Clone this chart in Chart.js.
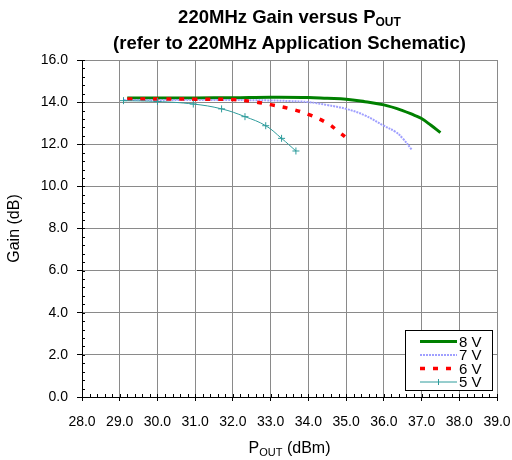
<!DOCTYPE html>
<html>
<head>
<meta charset="utf-8">
<script src="https://cdn.jsdelivr.net/npm/chart.js@4/dist/chart.umd.min.js"></script>
<style>
	html, body { margin: 0; padding: 0; background: #fff; }
	#wrap { position: relative; width: 512px; height: 460px; font-family: "Liberation Sans", Arial, sans-serif; }
	#wrap canvas { position: absolute; left: 0; top: 0; }
	.title { position: absolute; left: 82px; width: 415px; text-align: center; font-weight: bold; font-size: 18.5px; line-height: 20px; color: #000; white-space: nowrap; }
	.xtitle { position: absolute; left: 82px; width: 415px; top: 438px; text-align: center; font-size: 16px; line-height: 20px; color: #000; }
	sub { font-size: 11px; vertical-align: -3px; line-height: 0; }
	.title sub { font-size: 12px; }
</style>
</head>
<body>
<div id="wrap">
	<canvas id="chart" width="512" height="460"></canvas>
	<div class="title" style="top:7px">220MHz Gain versus P<sub>OUT</sub></div>
	<div class="title" style="top:33px">(refer to 220MHz Application Schematic)</div>
	<div class="xtitle">P<sub>OUT</sub> (dBm)</div>
</div>
<script>
/* globals Chart */

// values
const seriesLabels = ['8 V', '7 V', '6 V', '5 V'];

const pout8 = [29.2, 30.0, 31.0, 32.0, 33.0, 34.0, 34.5, 35.0, 35.5, 36.0, 36.5, 36.8, 37.0, 37.25, 37.5];
const gain8 = [14.2, 14.2, 14.2, 14.21, 14.23, 14.22, 14.18, 14.14, 14.02, 13.87, 13.6, 13.38, 13.22, 12.9, 12.55];

const pout7 = [29.1, 30.0, 31.0, 32.0, 33.0, 33.5, 34.0, 34.5, 35.0, 35.5, 36.0, 36.3, 36.5, 36.75];
const gain7 = [14.1, 14.1, 14.1, 14.1, 14.08, 14.05, 14.0, 13.86, 13.68, 13.37, 12.88, 12.6, 12.28, 11.72];

const pout6 = [29.2, 30.0, 31.0, 32.0, 32.5, 33.0, 33.5, 34.0, 34.5, 34.8, 35.1];
const gain6 = [14.15, 14.15, 14.14, 14.12, 14.03, 13.88, 13.69, 13.42, 13.0, 12.6, 12.17];

const pout5 = [29.1, 30.0, 30.95, 31.7, 32.32, 32.87, 33.29, 33.67];
const gain5 = [14.07, 14.03, 13.91, 13.68, 13.31, 12.88, 12.28, 11.68];

const xMin = 28, xMax = 39, xStep = 1, xMinor = 0.2;
const yMin = 0, yMax = 16, yStep = 2, yMinor = 0.4;

const FONT = '"Liberation Sans", Arial, sans-serif';

function toPoints(xs, ys) {
	let pts = [];
	for (let i = 0; i < xs.length; i++) {
		pts.push({ x: xs[i], y: ys[i] });
	}
	return pts;
}

// small inward ticks between the labelled ones
const minorTicks = {
	id: 'minorTicks',
	afterDraw(chart) {
		let ctx = chart.ctx;
		let xs = chart.scales.x;
		let ys = chart.scales.y;
		let area = chart.chartArea;

		ctx.save();
		ctx.strokeStyle = '#000';
		ctx.lineWidth = 1;
		ctx.beginPath();
		for (let v = yMin; v <= yMax + 1e-9; v += yMinor) {
			let py = Math.round(ys.getPixelForValue(v)) + 0.5;
			ctx.moveTo(area.left, py);
			ctx.lineTo(area.left + 3, py);
		}
		for (let v = xMin; v <= xMax + 1e-9; v += xMinor) {
			let px = Math.round(xs.getPixelForValue(v)) + 0.5;
			ctx.moveTo(px, area.bottom);
			ctx.lineTo(px, area.bottom - 3);
		}
		ctx.stroke();
		ctx.restore();
	}
};

// boxed legend in the lower right corner of the plot
const boxLegend = {
	id: 'boxLegend',
	afterDraw(chart) {
		let ctx = chart.ctx;
		let area = chart.chartArea;
		let left = area.right - 92, top = area.bottom - 67;
		let w = 87, h = 60;

		ctx.save();
		ctx.fillStyle = '#fff';
		ctx.fillRect(left, top, w, h);
		ctx.strokeStyle = '#000';
		ctx.lineWidth = 1;
		ctx.strokeRect(left + 0.5, top + 0.5, w, h);

		chart.data.datasets.forEach(function(ds, i) {
			let y = top + 11.5 + i * 13.5;
			ctx.save();
			ctx.strokeStyle = ds.borderColor;
			ctx.lineWidth = ds.borderWidth;
			ctx.setLineDash(ds.borderDash || []);
			ctx.beginPath();
			ctx.moveTo(left + 15, y);
			ctx.lineTo(left + 52, y);
			ctx.stroke();
			ctx.restore();
			if (ds.pointStyle === 'cross') {
				ctx.strokeStyle = ds.borderColor;
				ctx.lineWidth = 1;
				ctx.beginPath();
				ctx.moveTo(left + 33.5, y - 3);
				ctx.lineTo(left + 33.5, y + 3);
				ctx.stroke();
			}
			ctx.fillStyle = '#000';
			ctx.font = '15px ' + FONT;
			ctx.textBaseline = 'middle';
			ctx.textAlign = 'left';
			ctx.fillText(ds.label, left + 54, y + 1);
		});
		ctx.restore();
	}
};

const config = {
	type: 'line',
	data: {
		datasets: [
			{
				label: seriesLabels[0],
				data: toPoints(pout8, gain8),
				borderColor: '#008000',
				backgroundColor: '#008000',
				borderWidth: 3,
				pointRadius: 0,
				tension: 0.4,
				order: 3
			},
			{
				label: seriesLabels[1],
				data: toPoints(pout7, gain7),
				borderColor: '#a0a0ff',
				backgroundColor: '#a0a0ff',
				borderWidth: 2,
				borderDash: [2, 1],
				pointRadius: 0,
				tension: 0.4,
				order: 2
			},
			{
				label: seriesLabels[2],
				data: toPoints(pout6, gain6),
				borderColor: '#ff0000',
				backgroundColor: '#ff0000',
				borderWidth: 3.5,
				borderDash: [5, 8],
				pointRadius: 0,
				tension: 0.4,
				order: 1
			},
			{
				label: seriesLabels[3],
				data: toPoints(pout5, gain5),
				borderColor: '#2e9c9c',
				backgroundColor: '#2e9c9c',
				borderWidth: 1,
				pointStyle: 'cross',
				pointRadius: 3.5,
				pointBorderWidth: 1,
				tension: 0.4,
				order: 0
			}
		]
	},
	options: {
		responsive: false,
		animation: false,
		devicePixelRatio: 1,
		layout: { padding: { left: 0, top: 60, right: 15, bottom: 0 } },
		plugins: {
			legend: { display: false },
			title: { display: false },
			tooltip: { enabled: false }
		},
		scales: {
			x: {
				type: 'linear',
				min: xMin,
				max: xMax,
				afterFit: function(scale) {
					scale.height = 63;
					scale.paddingLeft = 0;
					scale.paddingRight = 0;
				},
				ticks: {
					stepSize: xStep,
					padding: 13,
					color: '#000',
					font: { family: FONT, size: 14 },
					callback: function(v) { return v.toFixed(1); },
					maxRotation: 0
				},
				grid: { color: '#8a8a8a', lineWidth: 1, tickColor: '#000', tickLength: 4 },
				border: { color: '#000', width: 1 }
			},
			y: {
				min: yMin,
				max: yMax,
				afterFit: function(scale) { scale.width = 82; },
				ticks: {
					stepSize: yStep,
					padding: 9,
					color: '#000',
					font: { family: FONT, size: 14 },
					callback: function(v) { return v.toFixed(1); }
				},
				grid: { color: '#8a8a8a', lineWidth: 1, tickColor: '#000', tickLength: 5 },
				border: { color: '#000', width: 1 },
				title: {
					display: true,
					text: 'Gain (dB)',
					color: '#000',
					font: { family: FONT, size: 16 },
					padding: { top: 5, bottom: 0 }
				}
			}
		}
	},
	plugins: [minorTicks, boxLegend]
};

new Chart(document.getElementById('chart'), config);
</script>
</body>
</html>
